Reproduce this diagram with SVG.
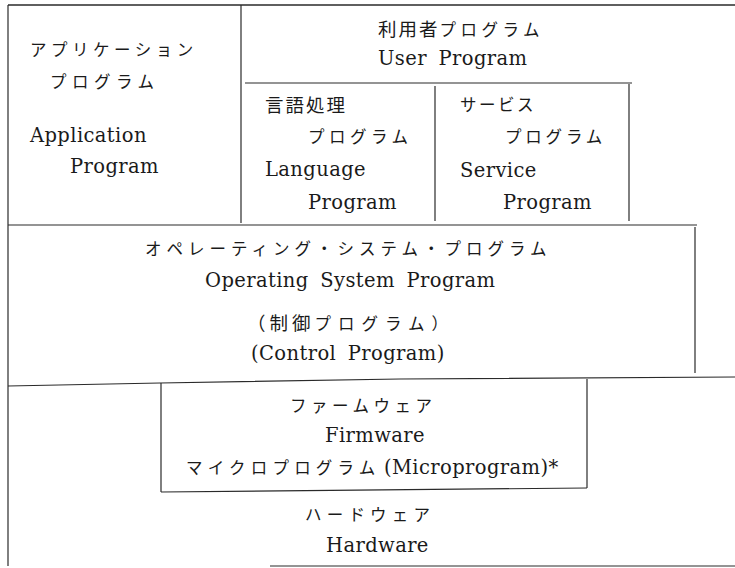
<svg xmlns="http://www.w3.org/2000/svg" width="735" height="568" viewBox="0 0 735 568">
<style>
.ln{stroke:#2a2a2a;stroke-width:1.2;fill:none}
.jp{font-family:"Noto Sans CJK JP","Noto Sans",sans-serif;font-size:16.5px;fill:#1a1a1a;letter-spacing:4.5px}
.kj{font-size:18.5px;letter-spacing:2px}
.en{font-family:"DejaVu Serif","Liberation Serif",serif;font-size:19.5px;fill:#1a1a1a;letter-spacing:0.4px;word-spacing:5px}
</style>
<rect width="735" height="568" fill="#ffffff"/>
<g id="lines">
<path class="ln" d="M8,5 H735" style="stroke-width:1.5"/>
<path class="ln" d="M8,5 V566"/>
<path class="ln" d="M241,5 V223"/>
<path class="ln" d="M245,83 H632"/>
<path class="ln" d="M435,86 V221"/>
<path class="ln" d="M629,84 V221"/>
<path class="ln" d="M8,225 H697"/>
<path class="ln" d="M695,227 V373"/>
<path class="ln" d="M8,386 L160,383 L400,379 L735,377"/>
<path class="ln" d="M161,383 V492"/>
<path class="ln" d="M161,492 L587,488"/>
<path class="ln" d="M587,379 V488"/>
<path class="ln" d="M270,566 H735"/>
</g>
<g id="application">
<text class="jp" x="30" y="56">アプリケーション</text>
<text class="jp" x="50" y="88" style="letter-spacing:5.5px">プログラム</text>
<text class="en" x="30" y="142">Application</text>
<text class="en" x="70" y="173">Program</text>
</g>
<g id="user">
<text class="jp" x="378" y="36"><tspan class="kj">利用者</tspan>プログラム</text>
<text class="en" x="378" y="65">User Program</text>
</g>
<g id="language">
<text class="jp kj" x="265" y="112">言語処理</text>
<text class="jp" x="308" y="143">プログラム</text>
<text class="en" x="265" y="176">Language</text>
<text class="en" x="308" y="209">Program</text>
</g>
<g id="service">
<text class="jp" x="460" y="111" style="letter-spacing:2.5px">サービス</text>
<text class="jp" x="505" y="143" style="letter-spacing:3.8px">プログラム</text>
<text class="en" x="460" y="177">Service</text>
<text class="en" x="503" y="209">Program</text>
</g>
<g id="os">
<text class="jp" x="145" y="255" style="letter-spacing:5px">オペレーティング・システム・プログラム</text>
<text class="en" x="205" y="287">Operating System Program</text>
<text class="jp" x="247" y="330" style="letter-spacing:7px"><tspan class="kj" style="letter-spacing:4px">（制御</tspan>プログラム）</text>
<text class="en" x="251" y="360">(Control Program)</text>
</g>
<g id="firmware">
<text class="jp" x="290" y="412">ファームウェア</text>
<text class="en" x="325" y="442">Firmware</text>
<text class="jp" x="186" y="474" style="letter-spacing:5.2px">マイクロプログラム</text>
<text class="en" x="384" y="474">(Microprogram)*</text>
</g>
<g id="hardware">
<text class="jp" x="305" y="521" style="letter-spacing:5.2px">ハードウェア</text>
<text class="en" x="326" y="552">Hardware</text>
</g>
</svg>
